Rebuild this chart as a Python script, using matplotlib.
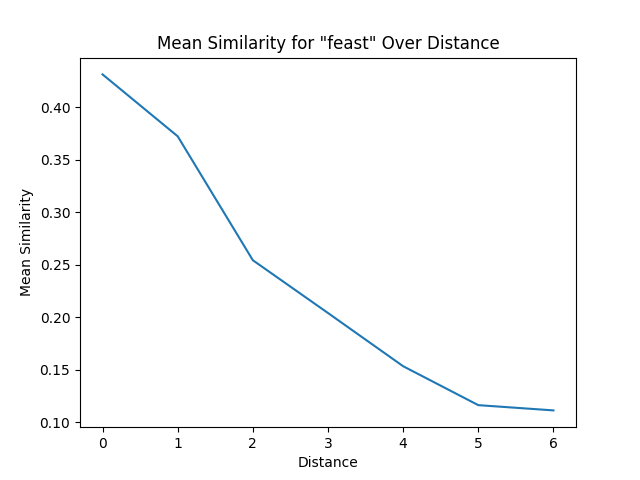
import matplotlib
matplotlib.use("Agg")
import matplotlib.pyplot as plt

distances = [0, 1, 2, 3, 4, 5, 6]
mean_similarity = [0.4314, 0.3724, 0.2543, 0.2040, 0.1533, 0.1162, 0.1112]

plt.figure(figsize=(6.4, 4.8), dpi=100)
plt.plot(distances, mean_similarity)
plt.title('Mean Similarity for "feast" Over Distance')
plt.xlabel('Distance')
plt.ylabel('Mean Similarity')
plt.savefig("out.png")
